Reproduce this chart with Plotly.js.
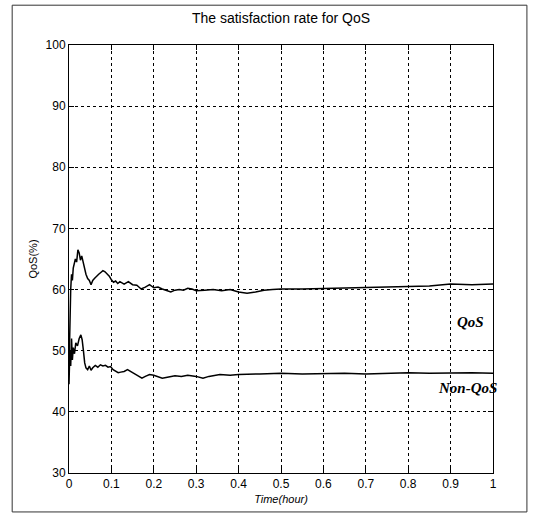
<!DOCTYPE html>
<html>
<head>
<meta charset="utf-8">
<script src="https://cdn.plot.ly/plotly-3.0.1.min.js"></script>
<style>
html,body{margin:0;padding:0;background:#fff;}
#chart{width:540px;height:520px;}
</style>
</head>
<body>
<div id="chart"></div>
<script>
const qosX = [0,0.002,0.004,0.006,0.008,0.010,0.012,0.015,0.018,0.021,0.024,0.027,0.030,0.033,0.036,0.040,0.044,0.048,0.052,0.056,0.060,0.065,0.070,0.075,0.080,0.085,0.090,0.095,0.100,0.105,0.110,0.115,0.120,0.130,0.140,0.150,0.160,0.170,0.180,0.190,0.200,0.210,0.220,0.230,0.240,0.250,0.260,0.270,0.280,0.290,0.300,0.320,0.340,0.360,0.380,0.400,0.420,0.440,0.460,0.480,0.500,0.550,0.600,0.650,0.700,0.750,0.800,0.850,0.900,0.950,1.000];
const qosY = [47,55,60,62.5,61.5,63.5,64,65,64.5,66.5,66,64.8,65.5,64.6,63.5,62.5,61.8,61.5,60.8,61.5,61.8,62.2,62.5,62.8,63.1,62.9,62.6,62.2,61.6,61.2,61.4,61.0,61.3,60.9,61.3,60.8,60.7,60.1,60.4,60.8,60.3,60.4,60.1,59.8,59.6,59.9,60.0,59.9,60.2,60.1,59.8,59.9,60.0,59.8,60.0,59.6,59.4,59.6,59.9,60.0,60.1,60.1,60.2,60.3,60.4,60.5,60.5,60.6,60.9,60.8,60.9];
const nonX = [0,0.002,0.004,0.006,0.008,0.010,0.013,0.016,0.020,0.024,0.028,0.031,0.034,0.037,0.040,0.044,0.048,0.052,0.056,0.062,0.068,0.074,0.080,0.086,0.092,0.098,0.104,0.110,0.116,0.122,0.130,0.138,0.144,0.150,0.160,0.172,0.180,0.190,0.200,0.210,0.220,0.235,0.250,0.265,0.280,0.300,0.316,0.330,0.356,0.380,0.400,0.450,0.500,0.550,0.600,0.650,0.700,0.750,0.800,0.850,0.900,0.950,1.000];
const nonY = [44.5,50,47.5,52,48.5,50.5,49.5,51.3,50.8,52.0,52.6,51.8,50,48,47.2,46.9,47.5,46.8,47.2,47.6,47.3,47.7,47.5,47.6,47.3,47.4,46.9,46.6,46.4,46.5,46.6,46.9,46.7,46.4,46.0,45.5,45.8,46.1,46.0,45.8,45.5,45.7,45.9,45.8,46.0,45.8,45.5,45.8,46.1,46.0,46.1,46.2,46.3,46.2,46.3,46.3,46.2,46.3,46.4,46.3,46.4,46.4,46.3];
const xTicks = [0,0.1,0.2,0.3,0.4,0.5,0.6,0.7,0.8,0.9,1];
const xTickText = ["0","0.1","0.2","0.3","0.4","0.5","0.6","0.7","0.8","0.9","1"];
const yTicks = [30,40,50,60,70,80,90,100];
const labels = ["QoS","Non-QoS"];

const traces = [
  {x: qosX, y: qosY, type:'scatter', mode:'lines', line:{color:'#000', width:1.5}, name: labels[0]},
  {x: nonX, y: nonY, type:'scatter', mode:'lines', line:{color:'#000', width:1.5}, name: labels[1]}
];

const axisCommon = {
  showline:true, mirror:'ticks', linecolor:'#000', linewidth:1,
  ticks:'inside', ticklen:5, tickcolor:'#000',
  showgrid:true, gridcolor:'#000', gridwidth:1, griddash:'3px,3px',
  zeroline:false, tickfont:{family:'Liberation Sans, Arial, sans-serif', size:12, color:'#000'}
};

const layout = {
  width:540, height:520,
  margin:{l:69, r:47, t:45, b:47},
  paper_bgcolor:'#fff', plot_bgcolor:'#fff',
  showlegend:false,
  title:{text:'The satisfaction rate for QoS', font:{family:'Liberation Sans, Arial, sans-serif', size:14, color:'#000'}, x:0.5, xref:'paper', y:0.965, yanchor:'middle'},
  xaxis: Object.assign({}, axisCommon, {range:[0,1], tickvals:xTicks, ticktext:xTickText,
    title:{text:'<i>Time(hour)</i>', font:{family:'Liberation Sans, Arial, sans-serif', size:11, color:'#000'}, standoff:4}}),
  yaxis: Object.assign({}, axisCommon, {range:[30,100], tickvals:yTicks,
    title:{text:'QoS(%)', font:{family:'Liberation Sans, Arial, sans-serif', size:11, color:'#000'}, standoff:5}}),
  annotations:[
    {x:0.946, y:54.7, xref:'x', yref:'y', text:'<b><i>'+labels[0]+'</i></b>', showarrow:false, font:{family:'Liberation Serif, Times New Roman, serif', size:15, color:'#000'}},
    {x:0.94, y:43.9, xref:'x', yref:'y', text:'<b><i>'+labels[1]+'</i></b>', showarrow:false, font:{family:'Liberation Serif, Times New Roman, serif', size:15, color:'#000'}}
  ],
  shapes:[
    {type:'rect', xref:'paper', yref:'paper', x0:-0.134, x1:1.080, y0:-0.091, y1:1.093, line:{color:'#333', width:1}, fillcolor:'rgba(0,0,0,0)'}
  ]
};

Plotly.newPlot('chart', traces, layout, {displayModeBar:false, staticPlot:true});
</script>
</body>
</html>
